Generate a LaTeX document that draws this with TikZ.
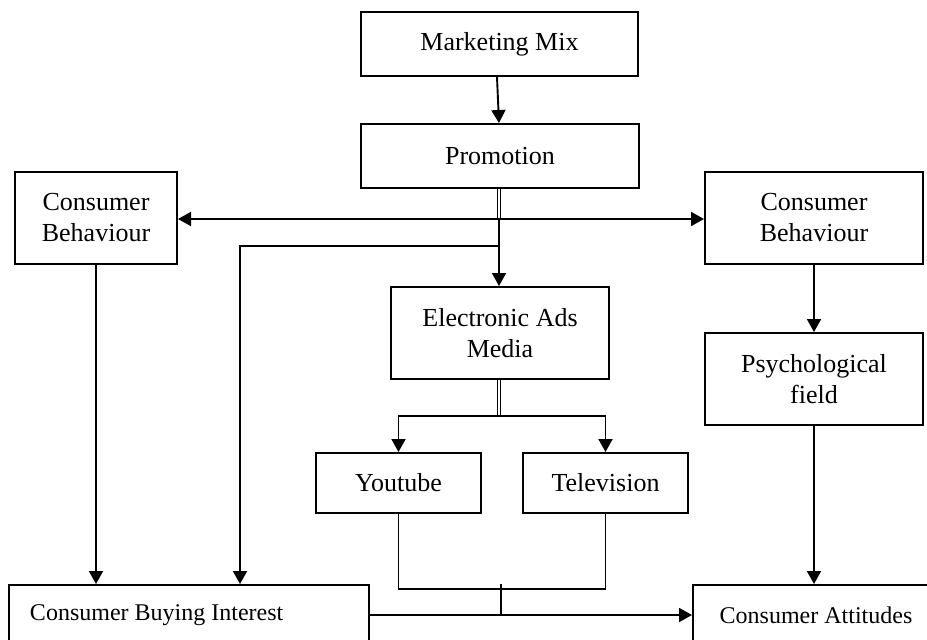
\documentclass[tikz,border=0pt]{standalone}
\usepackage{fontspec}
\setmainfont{Liberation Serif}
\usetikzlibrary{arrows.meta,calc}
\begin{document}
\begin{tikzpicture}[x=1pt,y=-1pt,
 box/.style={draw, line width=2pt, inner sep=0pt, align=center, font=\fontsize{26}{31}\selectfont},
 small/.style={font=\fontsize{24}{29}\selectfont},
 arr/.style={line width=1.9pt, -{Triangle[length=13pt,width=14pt]}},
 ln/.style={line width=1.9pt},
 dbl/.style={double, double distance=1.6pt, line width=0.9pt}]
\useasboundingbox (0,0) rectangle (927,640);
\fill[white] (0,0) rectangle (927,640);
\clip (0,0) rectangle (927,640);
% boxes
\node[box, minimum width=277pt, minimum height=64pt] (mm) at (499.5,44) {Marketing Mix};
\node[box, minimum width=278pt, minimum height=64pt] (promo) at (500,156) {Promotion};
\node[box, minimum width=162pt, minimum height=92pt] (cbl) at (96,218) {Consumer\\Behaviour};
\node[box, minimum width=218pt, minimum height=92pt] (cbr) at (814,218) {Consumer\\Behaviour};
\node[box, minimum width=218pt, minimum height=92pt] (ead) at (500,333) {Electronic Ads\\Media};
\node[box, minimum width=218pt, minimum height=92pt] (psych) at (814,379) {Psychological\\field};
\node[box, minimum width=165pt, minimum height=60pt] (yt) at (398.5,483) {Youtube};
\node[box, minimum width=165pt, minimum height=60pt] (tv) at (605.5,483) {Television};
\node[box, small, anchor=north west, minimum height=60pt, text width=318pt, align=flush left, inner xsep=21pt] (cbi) at (8,584) {Consumer Buying Interest};
\node[box, small, anchor=north west, minimum width=246pt, minimum height=60pt] (ca) at (692,584) {Consumer Attitudes};
% junctions
\coordinate (j1) at (499,219);
\coordinate (j2) at (499,246);
\coordinate (j2b) at (240,246);
\coordinate (j3) at (499,416);
\coordinate (j4) at (501,589);
\coordinate (j5) at (501,584);
\coordinate (j6) at (501,616);
% connectors
\draw[arr] ([xshift=-2.5pt]mm.south) -- ([xshift=-1pt]promo.north);
\draw[dbl] ([xshift=-1pt]promo.south) -- (j1);
\draw[arr] (j1) -- (j1 -| cbl.east);
\draw[arr] (j1) -- (j1 -| cbr.west);
\draw[arr] (j1) -- (j1 |- ead.north);
\draw[arr] (j2) -- (j2b) -- (j2b |- cbi.north);
\draw[arr] (cbl.south) -- (cbl.south |- cbi.north);
\draw[arr] (cbr.south) -- (psych.north);
\draw[arr] (psych.south) -- (psych.south |- ca.north);
\draw[dbl] (ead.south -| j3) -- (j3);
\draw[arr] (j3) -| (yt.north);
\draw[arr] (j3) -| (tv.north);
\draw[ln] (yt.south) |- (j4) -| (tv.south);
\draw[ln] (j5) -- (j6);
\draw[arr] (cbi.east) -- (ca.west);
\end{tikzpicture}
\end{document}
